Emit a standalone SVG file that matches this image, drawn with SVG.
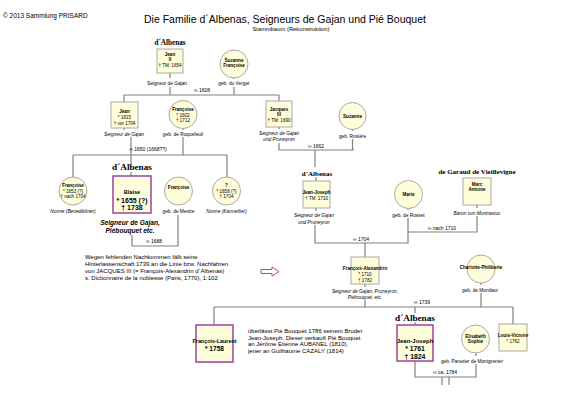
<svg xmlns="http://www.w3.org/2000/svg" width="569" height="402" viewBox="0 0 569 402">
<style>
text{font-family:"Liberation Sans",Arial,sans-serif;fill:#000;}
.n{fill:#fffedb;stroke:#a8a8a8;stroke-width:1;}
.p{fill:#fffedb;stroke:#a24ea2;stroke-width:1.6;}
.t{font-size:4.6px;text-anchor:middle;}
.tb{font-size:4.6px;text-anchor:middle;font-weight:bold;}
.lb{font-size:4.8px;text-anchor:middle;}
.li{font-size:4.8px;text-anchor:middle;font-style:italic;}
.m{font-size:5px;text-anchor:middle;}
.fam{font-family:"Liberation Serif","Times New Roman",serif;font-weight:bold;text-anchor:middle;}
.big{font-size:7px;font-weight:bold;text-anchor:middle;}
.para{font-size:6px;}
#conn path{fill:none;stroke:#808080;stroke-width:1.2;}
</style>
<rect width="569" height="402" fill="#fff"/>
<text x="3" y="18" style="font-size:6.5px">© 2013 Sammlung PRISARD</text>
<text x="285" y="22.5" style="font-size:10.5px;text-anchor:middle">Die Familie d´Albenas, Seigneurs de Gajan und Pié Bouquet</text>
<text x="291" y="30.5" style="font-size:5.8px;text-anchor:middle">Stammbaum (Rekonstruktion)</text>

<g id="conn">
<path d="M170 73V78M170 87V95M234 78V79M234 87V95M124 95H279M124 95V102M279 95V101"/>
<path d="M124 128V130M131 137V164M183 128V130M183 137V155M73 155H227M73 155V177M227 155V177"/>
<path d="M131 172V176M132 235V246H178V215"/>
<path d="M279 127V129M279 143V150M352.5 130V131M352.5 139V150M279 150H354M315 150V167M316 177V181"/>
<path d="M316 208V211M315 225V243H408V218M408 208.5V210M365 243V257M408 232H477V216M477 205V208"/>
<path d="M365 284V287M365 300V307M481 283V285M481 293V307M214 307H513M214 307V325M513 307V324M415 307V313M415 322V325"/>
<path d="M415 361V377H476V364M476 353V356M442 377V385M449 377V385"/>
</g>

<g id="fam-top"><text class="fam" x="170" y="45" style="font-size:7.2px">d´Albenas</text></g>
<g id="jean2">
<rect class="n" x="157" y="49" width="26" height="24"/>
<text class="tb" x="170" y="55.5">Jean</text>
<text class="tb" x="170" y="60.5">II</text>
<text class="t" x="170" y="66.5">† TM: 1654</text>
<text class="li" x="167" y="84.5" style="font-style:normal">Seigneur de Gajan</text>
</g>
<g id="suzanne1">
<circle class="n" cx="234" cy="64" r="14"/>
<text class="tb" x="234" y="62">Suzanne</text>
<text class="tb" x="234" y="67">Françoise</text>
<text class="lb" x="234" y="85">geb. du Verger</text>
</g>
<text class="m" x="202" y="92">∞ 1608</text>

<g id="jean">
<rect class="n" x="111" y="102" width="27" height="26"/>
<text class="tb" x="124.5" y="112.5">Jean</text>
<text class="t" x="124.5" y="118.5">* 1615</text>
<text class="t" x="124.5" y="124.5">† vor 1704</text>
<text class="li" x="124" y="135.5">Seigneur de Gajan</text>
</g>
<g id="francoise1602">
<circle class="n" cx="183" cy="114.5" r="14"/>
<text class="tb" x="183" y="111">Françoise</text>
<text class="t" x="183" y="116.5">* 1602</text>
<text class="t" x="183" y="122">† 1712</text>
<text class="lb" x="183" y="135.5">geb. de Roquefeuil</text>
</g>
<text class="m" x="148" y="150.5">∞ 1650 (1668??)</text>

<g id="francoise1653">
<circle class="n" cx="73" cy="191" r="14"/>
<text class="tb" x="73" y="187">Françoise</text>
<text class="t" x="73" y="192.5">* 1653 (?)</text>
<text class="t" x="73" y="198">† nach 1704</text>
<text class="li" x="73" y="213">Nonne (Benediktiner)</text>
</g>
<g id="blaise">
<text class="fam" x="132" y="170" style="font-size:9.2px">d´Albenas</text>
<rect class="p" x="113" y="176" width="38" height="37"/>
<text class="tb" x="132" y="194" style="font-size:5.6px">Blaise</text>
<text class="big" x="132" y="202.5">* 1655 (?)</text>
<text class="big" x="132" y="209.8">† 1738</text>
<text x="130" y="225" style="font-size:6.6px;font-weight:bold;font-style:italic;text-anchor:middle">Seigneur de Gajan,</text>
<text x="130" y="233" style="font-size:6.6px;font-weight:bold;font-style:italic;text-anchor:middle">Piébouquet etc.</text>
</g>
<g id="francoise-mestre">
<circle class="n" cx="178.5" cy="191" r="14"/>
<text class="tb" x="178.5" y="189">Françoise</text>
<text class="lb" x="178.5" y="213">geb. de Mestre</text>
</g>
<g id="unknown1658">
<circle class="n" cx="226.5" cy="191" r="14"/>
<text class="tb" x="226.5" y="187">?</text>
<text class="t" x="226.5" y="192.5">* 1658 (?)</text>
<text class="t" x="226.5" y="198">† 1704</text>
<text class="li" x="226.5" y="213">Nonne (Karmeliter)</text>
</g>
<text class="m" x="154" y="243">∞ 1688</text>

<g id="note1" class="para">
<text class="para" x="85" y="259">Wegen fehlenden Nachkommen fällt seine</text>
<text class="para" x="85" y="266">Hinterlassenschaft 1739 an die Linie bzw. Nachfahren</text>
<text class="para" x="85" y="273">von JACQUES III (= François-Alexandrin d´Albenas)</text>
<text class="para" x="85" y="280">s. Dictionnaire de la noblesse (Paris, 1770), 1:102</text>
</g>
<polygon points="261,269.5 272,269.5 272,267 279,271.5 272,276 272,273.5 261,273.5" fill="#fff" stroke="#a24ea2" stroke-width="1"/>

<g id="jacques3">
<rect class="n" x="266" y="101" width="26" height="26"/>
<text class="tb" x="279" y="111">Jacques</text>
<text class="tb" x="279" y="116">III</text>
<text class="t" x="279" y="121.5">† TM: 1690</text>
<text class="li" x="279" y="135">Seigneur de Gajan</text>
<text class="li" x="279" y="141">und Pruneyron</text>
</g>
<g id="suzanne">
<circle class="n" cx="352.5" cy="116" r="13.5"/>
<text class="tb" x="352.5" y="117.5">Suzanne</text>
<text class="lb" x="352.5" y="137.5">geb. Rosière</text>
</g>
<text class="m" x="316" y="147.5">∞ 1662</text>

<g id="jeanjoseph1710">
<text class="fam" x="317" y="175.5" style="font-size:7px">d´Albenas</text>
<rect class="n" x="303" y="181" width="27" height="27"/>
<text class="tb" x="316.5" y="194.3">Jean-Joseph</text>
<text class="t" x="316.5" y="199.8">† TM: 1710</text>
<text class="li" x="314" y="217">Seigneur de Gajan</text>
<text class="li" x="314" y="223.5">und Pruneyron</text>
</g>
<g id="marie">
<circle class="n" cx="408.5" cy="194.5" r="14"/>
<text class="tb" x="408.5" y="196">Marie</text>
<text class="lb" x="408.5" y="216.5">geb. de Rosset</text>
</g>
<text class="m" x="361" y="240.5">∞ 1704</text>
<text class="m" x="442" y="229.5">∞ nach 1710</text>

<g id="marcantoine">
<text class="fam" x="477" y="174" style="font-size:7px">de Garaud de Vieillevigne</text>
<rect class="n" x="463" y="178" width="28" height="27"/>
<text class="tb" x="477" y="185.5">Marc</text>
<text class="tb" x="477" y="190.8">Antoine</text>
<text class="li" x="477" y="214.5">Baron von Montrastuc</text>
</g>

<g id="francoisalexandrin">
<rect class="n" x="351" y="257" width="28" height="27"/>
<text class="tb" x="365" y="269.5">François-Alexandrin</text>
<text class="t" x="365" y="275.5">* 1710</text>
<text class="t" x="365" y="281.5">† 1782</text>
<text class="li" x="365" y="292.5">Seigneur de Gajan, Pruneyron,</text>
<text class="li" x="365" y="298.5">Piébouquet, etc.</text>
</g>
<g id="charlotte">
<circle class="n" cx="481" cy="269" r="14"/>
<text class="tb" x="481" y="269">Charlotte-Philiberte</text>
<text class="lb" x="480" y="292">geb. de Montlaur</text>
</g>
<text class="m" x="422" y="303.5">∞ 1739</text>

<g id="francoislaurent">
<rect class="p" x="196" y="325" width="37" height="37"/>
<text class="tb" x="214.5" y="342.5" style="font-size:5.4px">François-Laurent</text>
<text class="big" x="214.5" y="350.5" style="font-size:6.6px">* 1758</text>
</g>
<g id="note2">
<text class="para" x="248" y="332.5">überlässt Pié Bouquet 1786 seinem Bruder</text>
<text class="para" x="248" y="339.5">Jean-Joseph. Dieser verkauft Pié Bouquet</text>
<text class="para" x="248" y="346">an Jérôme Etienne AUBANEL (1810),</text>
<text class="para" x="248" y="353">jener an Guilhaume CAZALY (1814)</text>
</g>
<g id="jeanjoseph1761">
<text class="fam" x="415" y="320.5" style="font-size:9.2px">d´Albenas</text>
<rect class="p" x="397" y="325" width="36" height="36"/>
<text class="tb" x="415" y="342.5" style="font-size:6px">Jean-Joseph</text>
<text class="big" x="415" y="350.5" style="font-size:6.8px">* 1761</text>
<text class="big" x="415" y="358.5" style="font-size:6.8px">† 1824</text>
</g>
<g id="elisabeth">
<circle class="n" cx="475.5" cy="339" r="14"/>
<text class="tb" x="475.5" y="337.5">Elisabeth</text>
<text class="tb" x="475.5" y="342.8">Sophie</text>
<text class="lb" x="472" y="362.5">geb. Panetier de Montgrenier</text>
</g>
<g id="louisvictoire">
<rect class="n" x="499" y="324" width="28" height="27"/>
<text class="tb" x="513" y="337">Louis-Victoire</text>
<text class="t" x="513" y="343">* 1762</text>
</g>
<text class="m" x="445" y="374">∞ ca. 1784</text>
</svg>
